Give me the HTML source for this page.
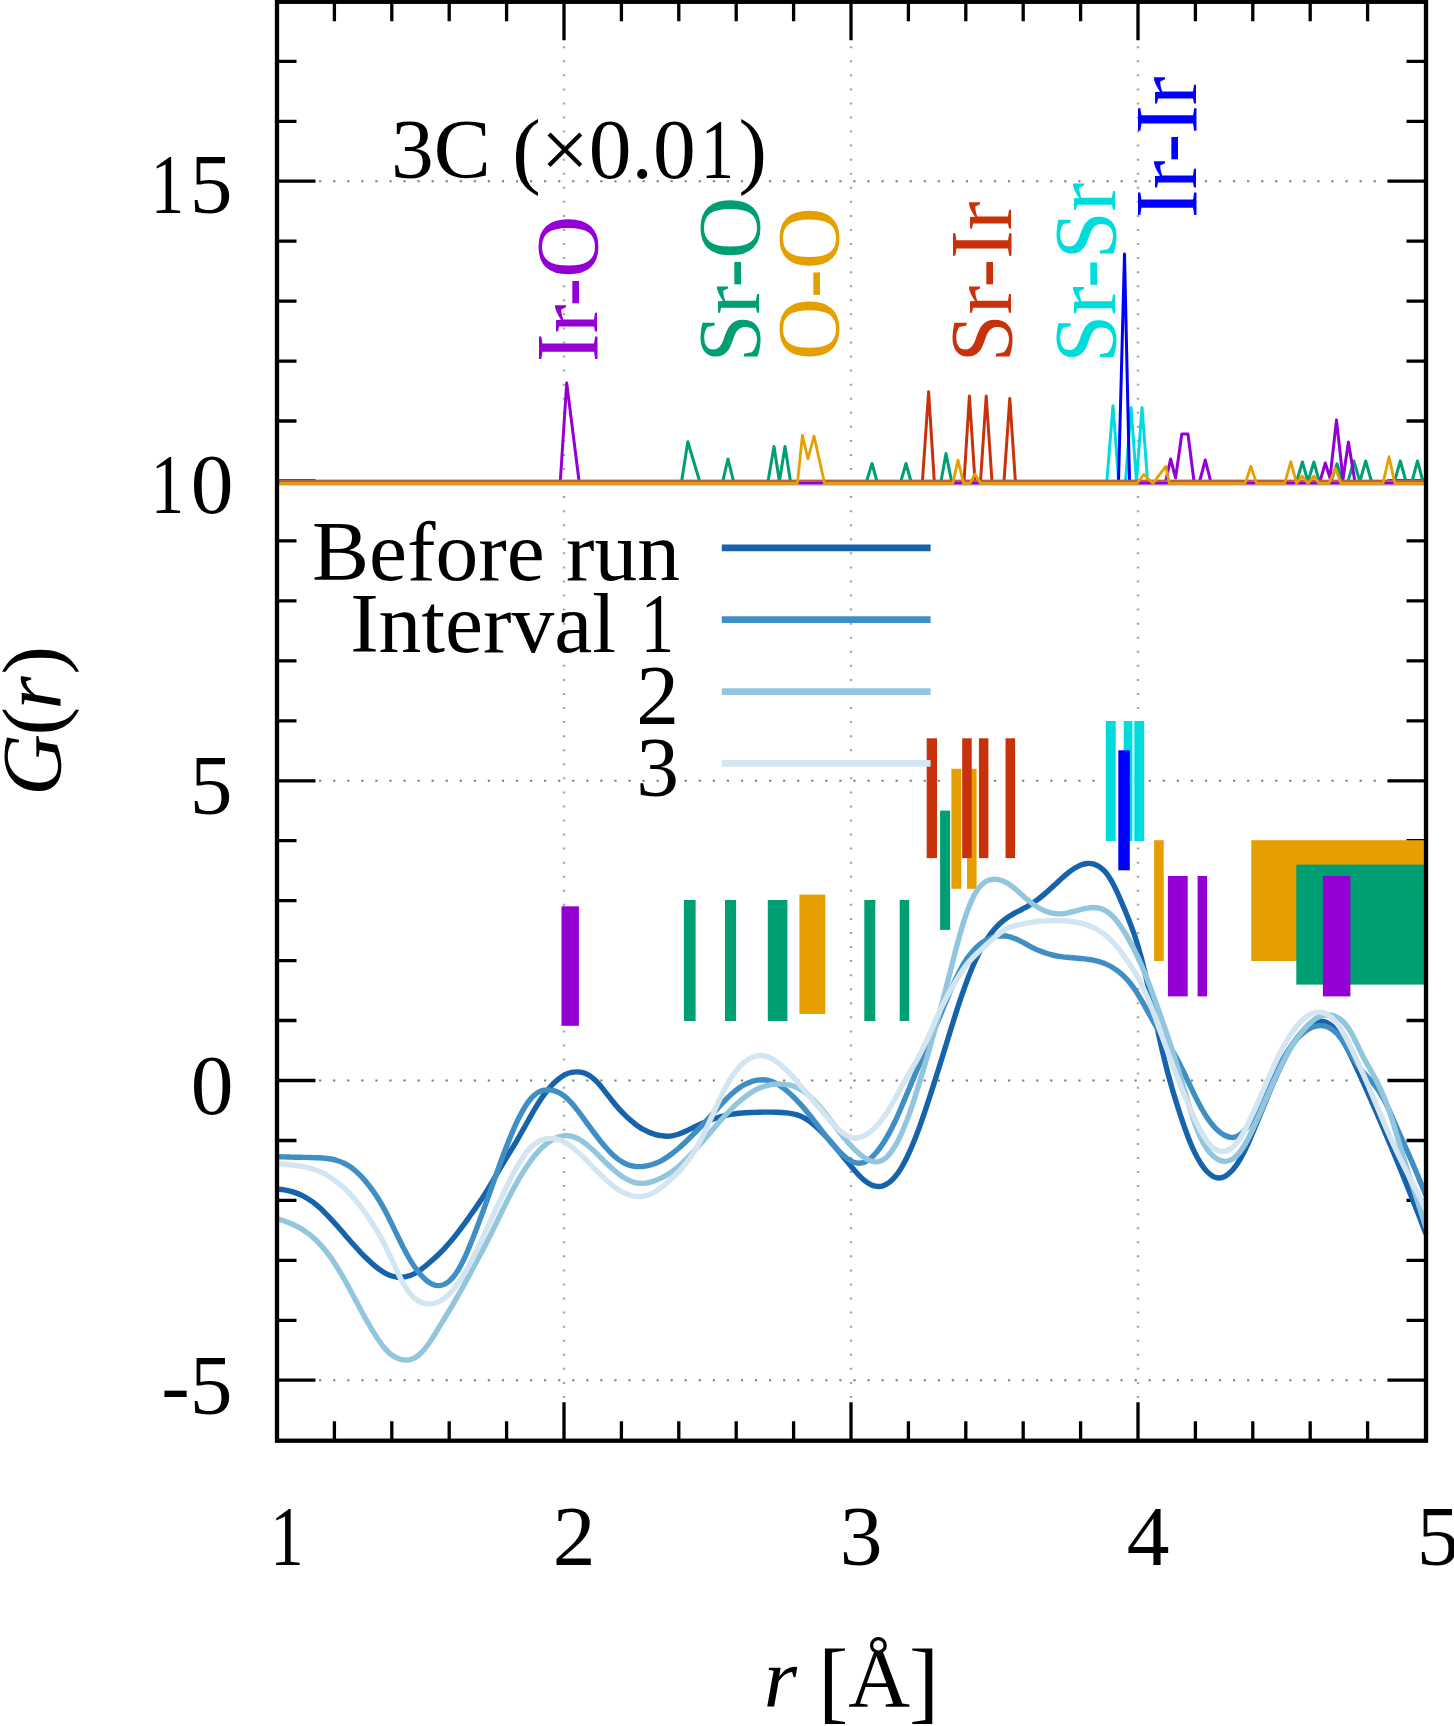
<!DOCTYPE html>
<html><head><meta charset="utf-8"><title>G(r)</title>
<style>
html,body{margin:0;padding:0;background:#fff;}
body{width:1454px;height:1726px;overflow:hidden;font-family:"Liberation Serif",serif;}
svg{display:block;filter:blur(0.55px);}
</style></head><body>
<svg width="1454" height="1726" viewBox="0 0 1454 1726">
<rect width="1454" height="1726" fill="#fff"/>
<g stroke="#7c7c7c" stroke-width="2" stroke-dasharray="2.2 11.86" fill="none">
<path d="M319.1 181.2H1388.0"/>
<path d="M319.1 481.0H1388.0"/>
<path d="M319.1 780.8H1388.0"/>
<path d="M319.1 1080.5H1388.0"/>
<path d="M319.1 1380.2H1388.0"/>
</g>
<g stroke="#a6a6a6" stroke-width="2.4" stroke-dasharray="2 12.06" fill="none">
<path d="M564.0 46.2V1400.7"/>
<path d="M851.0 46.2V1400.7"/>
<path d="M1138.0 46.2V1400.7"/>
</g>
<g stroke="#000" stroke-width="3.3" fill="none">
<path d="M277.0 1380.2h38.5 M1426.0 1380.2h-38.5"/>
<path d="M277.0 1320.3h19.5 M1426.0 1320.3h-19.5"/>
<path d="M277.0 1260.3h19.5 M1426.0 1260.3h-19.5"/>
<path d="M277.0 1200.4h19.5 M1426.0 1200.4h-19.5"/>
<path d="M277.0 1140.5h19.5 M1426.0 1140.5h-19.5"/>
<path d="M277.0 1080.5h38.5 M1426.0 1080.5h-38.5"/>
<path d="M277.0 1020.5h19.5 M1426.0 1020.5h-19.5"/>
<path d="M277.0 960.6h19.5 M1426.0 960.6h-19.5"/>
<path d="M277.0 900.6h19.5 M1426.0 900.6h-19.5"/>
<path d="M277.0 840.7h19.5 M1426.0 840.7h-19.5"/>
<path d="M277.0 780.8h38.5 M1426.0 780.8h-38.5"/>
<path d="M277.0 720.8h19.5 M1426.0 720.8h-19.5"/>
<path d="M277.0 660.8h19.5 M1426.0 660.8h-19.5"/>
<path d="M277.0 600.9h19.5 M1426.0 600.9h-19.5"/>
<path d="M277.0 540.9h19.5 M1426.0 540.9h-19.5"/>
<path d="M277.0 481.0h38.5 M1426.0 481.0h-38.5"/>
<path d="M277.0 421.0h19.5 M1426.0 421.0h-19.5"/>
<path d="M277.0 361.1h19.5 M1426.0 361.1h-19.5"/>
<path d="M277.0 301.1h19.5 M1426.0 301.1h-19.5"/>
<path d="M277.0 241.2h19.5 M1426.0 241.2h-19.5"/>
<path d="M277.0 181.2h38.5 M1426.0 181.2h-38.5"/>
<path d="M277.0 121.3h19.5 M1426.0 121.3h-19.5"/>
<path d="M277.0 61.3h19.5 M1426.0 61.3h-19.5"/>
<path d="M334.4 1440.7v-19.5 M334.4 1.8v19.5"/>
<path d="M391.8 1440.7v-19.5 M391.8 1.8v19.5"/>
<path d="M449.2 1440.7v-19.5 M449.2 1.8v19.5"/>
<path d="M506.6 1440.7v-19.5 M506.6 1.8v19.5"/>
<path d="M564.0 1440.7v-38.5 M564.0 1.8v38.5"/>
<path d="M621.4 1440.7v-19.5 M621.4 1.8v19.5"/>
<path d="M678.8 1440.7v-19.5 M678.8 1.8v19.5"/>
<path d="M736.2 1440.7v-19.5 M736.2 1.8v19.5"/>
<path d="M793.6 1440.7v-19.5 M793.6 1.8v19.5"/>
<path d="M851.0 1440.7v-38.5 M851.0 1.8v38.5"/>
<path d="M908.4 1440.7v-19.5 M908.4 1.8v19.5"/>
<path d="M965.8 1440.7v-19.5 M965.8 1.8v19.5"/>
<path d="M1023.2 1440.7v-19.5 M1023.2 1.8v19.5"/>
<path d="M1080.6 1440.7v-19.5 M1080.6 1.8v19.5"/>
<path d="M1138.0 1440.7v-38.5 M1138.0 1.8v38.5"/>
<path d="M1195.4 1440.7v-19.5 M1195.4 1.8v19.5"/>
<path d="M1252.8 1440.7v-19.5 M1252.8 1.8v19.5"/>
<path d="M1310.2 1440.7v-19.5 M1310.2 1.8v19.5"/>
<path d="M1367.6 1440.7v-19.5 M1367.6 1.8v19.5"/>
</g>
<rect x="561.5" y="906.3" width="17.4" height="119.5" fill="#9400d3"/>
<rect x="683.9" y="900.0" width="11.7" height="121.0" fill="#009e73"/>
<rect x="725.0" y="900.0" width="11.1" height="121.0" fill="#009e73"/>
<rect x="767.8" y="900.0" width="19.6" height="121.0" fill="#009e73"/>
<rect x="864.3" y="900.0" width="11.0" height="121.0" fill="#009e73"/>
<rect x="899.7" y="900.0" width="9.5" height="121.0" fill="#009e73"/>
<rect x="799.4" y="894.6" width="25.9" height="119.4" fill="#e69f00"/>
<rect x="940.1" y="810.6" width="10.0" height="119.3" fill="#009e73"/>
<rect x="951.4" y="768.8" width="9.9" height="120.0" fill="#e69f00"/>
<rect x="967.0" y="768.8" width="9.6" height="120.0" fill="#e69f00"/>
<rect x="926.7" y="738.3" width="10.3" height="119.8" fill="#c8320a"/>
<rect x="962.2" y="738.3" width="9.5" height="119.8" fill="#c8320a"/>
<rect x="978.9" y="738.3" width="9.5" height="119.8" fill="#c8320a"/>
<rect x="1005.5" y="738.3" width="9.6" height="119.8" fill="#c8320a"/>
<rect x="1105.8" y="721.0" width="9.9" height="120.0" fill="#00dcdc"/>
<rect x="1123.7" y="721.0" width="8.7" height="120.0" fill="#00dcdc"/>
<rect x="1134.3" y="721.0" width="9.9" height="120.0" fill="#00dcdc"/>
<rect x="1118.3" y="750.3" width="11.5" height="120.0" fill="#0000ff"/>
<rect x="1154.1" y="840.2" width="9.6" height="120.8" fill="#e69f00"/>
<rect x="1167.9" y="876.0" width="19.8" height="120.4" fill="#9400d3"/>
<rect x="1197.6" y="876.0" width="9.5" height="120.4" fill="#9400d3"/>
<rect x="1251.3" y="840.2" width="174.7" height="120.8" fill="#e69f00"/>
<rect x="1296.3" y="864.6" width="129.7" height="120.0" fill="#009e73"/>
<rect x="1322.9" y="876.0" width="27.5" height="120.4" fill="#9400d3"/>
<g fill="none" stroke-width="3" stroke-linejoin="round">
<polyline points="277.0,481.5 1106.8,481.5 1113.0,405.8 1118.7,481.5 1125.5,481.5 1131.0,407.5 1136.5,481.5 1142.0,407.5 1147.6,481.5 1426.0,481.5" stroke="#00dcdc"/>
<polyline points="277.0,481.5 1118.5,481.5 1124.5,254.0 1129.5,481.5 1426.0,481.5" stroke="#0000ff"/>
<polyline points="277.0,481.5 922.4,481.5 928.6,391.7 934.3,481.5 964.0,481.5 969.4,396.0 975.0,481.5 980.5,481.5 986.2,396.0 992.0,481.5 1004.0,481.5 1009.8,398.4 1015.4,481.5 1426.0,481.5" stroke="#c8320a"/>
<polyline points="277.0,481.5 681.6,481.5 687.8,441.7 699.7,481.5 722.7,481.5 728.0,459.0 733.6,481.5 768.0,481.5 774.0,446.6 779.4,481.5 785.0,446.6 790.5,481.5 866.5,481.5 872.0,463.5 877.0,481.5 900.8,481.5 906.0,463.5 911.0,481.5 941.0,481.5 946.0,453.6 951.6,481.5 1296.6,481.5 1302.4,462.0 1308.0,481.5 1313.9,462.0 1319.3,481.5 1331.0,481.5 1337.0,463.8 1342.5,481.5 1348.0,481.5 1353.8,461.0 1359.9,481.5 1365.7,461.0 1371.5,481.5 1394.5,481.5 1400.3,461.0 1406.0,481.5 1412.0,481.5 1417.5,461.0 1423.0,481.5 1426.0,481.5" stroke="#009e73"/>
<polyline points="277.0,481.5 560.3,481.5 566.7,383.0 579.1,481.5 1165.7,481.5 1170.6,459.0 1175.6,478.0 1181.8,434.0 1188.0,434.0 1194.0,481.5 1199.6,481.5 1205.3,460.0 1210.7,481.5 1320.0,481.5 1325.3,463.0 1330.0,478.0 1336.5,420.0 1343.0,479.0 1348.4,442.0 1354.9,481.5 1426.0,481.5" stroke="#9400d3"/>
</g>
<rect x="277.0" y="479.6" width="1149.0" height="2.6" fill="#b0604c"/>
<rect x="277.0" y="482.1" width="1149.0" height="2.5" fill="#9400d3"/>
<rect x="277.0" y="485.0" width="1149.0" height="1" fill="#d8cce8"/>
<polyline points="277.0,483.4 797.4,483.4 802.4,435.5 808.0,459.0 814.0,436.0 824.6,483.4 952.8,483.4 958.0,460.0 963.5,483.4 970.0,483.4 975.0,474.0 980.5,483.4 1137.0,483.4 1144.0,474.4 1153.0,483.4 1165.7,466.4 1169.4,483.4 1245.2,483.4 1250.8,466.4 1256.6,483.4 1284.7,483.4 1290.8,461.6 1296.6,483.4 1302.0,476.0 1308.0,483.4 1313.9,476.0 1319.0,483.4 1329.0,483.4 1335.5,468.5 1340.9,483.4 1383.0,483.4 1389.0,456.7 1394.9,483.4 1426.0,483.4" stroke="#e69f00" fill="none" stroke-width="2.8" stroke-linejoin="round"/>
<g fill="none" stroke-width="5.4" stroke-linecap="butt" stroke-linejoin="round">
<path d="M277.0 1189.1C278.0 1189.2 281.0 1189.4 283.0 1189.7C285.0 1190.0 287.0 1190.4 289.0 1190.8C291.0 1191.3 293.0 1191.9 295.0 1192.6C297.0 1193.3 299.0 1194.0 301.0 1195.0C303.0 1195.9 305.0 1196.9 307.0 1198.2C309.0 1199.4 311.0 1200.7 313.0 1202.2C315.0 1203.7 317.0 1205.4 319.0 1207.1C321.0 1208.9 323.0 1210.8 325.0 1212.8C327.0 1214.8 329.0 1216.9 331.0 1219.1C333.0 1221.2 335.0 1223.5 337.0 1225.8C339.0 1228.0 341.0 1230.3 343.0 1232.6C345.0 1234.9 347.0 1237.3 349.0 1239.5C351.0 1241.8 353.0 1244.1 355.0 1246.3C357.0 1248.5 359.0 1250.7 361.0 1252.8C363.0 1254.9 365.0 1256.9 367.0 1258.8C369.0 1260.7 371.0 1262.6 373.0 1264.4C375.0 1266.1 377.0 1267.8 379.0 1269.2C381.0 1270.7 383.0 1272.0 385.0 1273.1C387.0 1274.2 389.0 1275.1 391.0 1275.8C393.0 1276.5 395.0 1276.9 397.0 1277.2C399.0 1277.4 401.0 1277.4 403.0 1277.1C405.0 1276.9 407.0 1276.5 409.0 1275.8C411.0 1275.2 413.0 1274.3 415.0 1273.3C417.0 1272.2 419.0 1270.9 421.0 1269.5C423.0 1268.1 425.0 1266.4 427.0 1264.8C429.0 1263.1 431.0 1261.4 433.0 1259.6C435.0 1257.8 437.0 1256.0 439.0 1254.0C441.0 1252.1 443.0 1250.0 445.0 1247.9C447.0 1245.7 449.0 1243.4 451.0 1241.1C453.0 1238.7 455.0 1236.2 457.0 1233.6C459.0 1231.0 461.0 1228.3 463.0 1225.6C465.0 1222.9 467.0 1220.1 469.0 1217.3C471.0 1214.5 473.0 1211.7 475.0 1208.9C477.0 1206.0 479.0 1203.1 481.0 1200.0C483.0 1197.0 485.0 1193.8 487.0 1190.6C489.0 1187.3 491.0 1183.9 493.0 1180.5C495.0 1177.1 497.0 1173.5 499.0 1170.1C501.0 1166.7 503.0 1163.3 505.0 1160.0C507.0 1156.7 509.0 1153.5 511.0 1150.3C513.0 1147.0 515.0 1143.7 517.0 1140.3C519.0 1136.9 521.0 1133.4 523.0 1129.8C525.0 1126.3 527.0 1122.6 529.0 1119.1C531.0 1115.6 533.0 1111.9 535.0 1108.6C537.0 1105.2 539.0 1102.0 541.0 1099.0C543.0 1096.0 545.0 1093.3 547.0 1090.8C549.0 1088.3 551.0 1086.1 553.0 1084.0C555.0 1082.0 557.0 1080.2 559.0 1078.6C561.0 1077.1 563.0 1075.7 565.0 1074.7C567.0 1073.7 569.0 1073.0 571.0 1072.5C573.0 1072.1 575.0 1071.9 577.0 1071.9C579.0 1071.9 581.0 1072.1 583.0 1072.7C585.0 1073.2 587.0 1074.0 589.0 1075.2C591.0 1076.4 593.0 1078.1 595.0 1079.9C597.0 1081.8 599.0 1084.2 601.0 1086.5C603.0 1088.9 605.0 1091.5 607.0 1094.1C609.0 1096.6 611.0 1099.3 613.0 1101.8C615.0 1104.3 617.0 1106.7 619.0 1108.9C621.0 1111.1 623.0 1113.1 625.0 1115.1C627.0 1117.1 629.0 1118.9 631.0 1120.6C633.0 1122.4 635.0 1124.0 637.0 1125.5C639.0 1126.9 641.0 1128.2 643.0 1129.3C645.0 1130.5 647.0 1131.4 649.0 1132.2C651.0 1133.1 653.0 1133.8 655.0 1134.3C657.0 1134.9 659.0 1135.4 661.0 1135.7C663.0 1136.0 665.0 1136.2 667.0 1136.2C669.0 1136.2 671.0 1136.0 673.0 1135.6C675.0 1135.3 677.0 1134.7 679.0 1134.0C681.0 1133.3 683.0 1132.4 685.0 1131.5C687.0 1130.6 689.0 1129.6 691.0 1128.6C693.0 1127.6 695.0 1126.6 697.0 1125.7C699.0 1124.8 701.0 1123.9 703.0 1123.0C705.0 1122.2 707.0 1121.4 709.0 1120.7C711.0 1119.9 713.0 1119.2 715.0 1118.5C717.0 1117.9 719.0 1117.3 721.0 1116.7C723.0 1116.1 725.0 1115.6 727.0 1115.2C729.0 1114.7 731.0 1114.4 733.0 1114.1C735.0 1113.7 737.0 1113.5 739.0 1113.3C741.0 1113.1 743.0 1112.9 745.0 1112.8C747.0 1112.7 749.0 1112.6 751.0 1112.5C753.0 1112.4 755.0 1112.3 757.0 1112.3C759.0 1112.2 761.0 1112.2 763.0 1112.1C765.0 1112.1 767.0 1112.1 769.0 1112.1C771.0 1112.1 773.0 1112.2 775.0 1112.2C777.0 1112.3 779.0 1112.4 781.0 1112.5C783.0 1112.6 785.0 1112.7 787.0 1112.9C789.0 1113.2 791.0 1113.4 793.0 1113.9C795.0 1114.3 797.0 1114.8 799.0 1115.6C801.0 1116.4 803.0 1117.3 805.0 1118.4C807.0 1119.5 809.0 1120.9 811.0 1122.4C813.0 1123.9 815.0 1125.7 817.0 1127.5C819.0 1129.3 821.0 1131.3 823.0 1133.4C825.0 1135.4 827.0 1137.6 829.0 1139.8C831.0 1142.0 833.0 1144.3 835.0 1146.7C837.0 1149.0 839.0 1151.5 841.0 1153.9C843.0 1156.4 845.0 1158.9 847.0 1161.3C849.0 1163.8 851.0 1166.3 853.0 1168.6C855.0 1170.9 857.0 1173.3 859.0 1175.3C861.0 1177.3 863.0 1179.3 865.0 1180.8C867.0 1182.4 869.0 1183.7 871.0 1184.7C873.0 1185.6 875.0 1186.2 877.0 1186.4C879.0 1186.6 881.0 1186.5 883.0 1185.8C885.0 1185.2 887.0 1184.2 889.0 1182.7C891.0 1181.2 893.0 1179.2 895.0 1176.8C897.0 1174.4 899.0 1171.6 901.0 1168.3C903.0 1165.0 905.0 1161.3 907.0 1157.2C909.0 1153.1 911.0 1148.6 913.0 1143.8C915.0 1139.0 917.0 1133.8 919.0 1128.4C921.0 1122.9 923.0 1117.1 925.0 1111.2C927.0 1105.3 929.0 1099.1 931.0 1092.9C933.0 1086.7 935.0 1080.3 937.0 1074.0C939.0 1067.6 941.0 1061.2 943.0 1054.7C945.0 1048.2 947.0 1041.6 949.0 1035.2C951.0 1028.7 953.0 1022.2 955.0 1016.0C957.0 1009.7 959.0 1003.5 961.0 997.7C963.0 991.8 965.0 986.1 967.0 980.8C969.0 975.4 971.0 970.4 973.0 965.7C975.0 961.1 977.0 956.9 979.0 953.0C981.0 949.1 983.0 945.6 985.0 942.4C987.0 939.1 989.0 936.1 991.0 933.5C993.0 930.8 995.0 928.5 997.0 926.4C999.0 924.3 1001.0 922.5 1003.0 920.9C1005.0 919.2 1007.0 917.8 1009.0 916.5C1011.0 915.2 1013.0 914.1 1015.0 912.9C1017.0 911.8 1019.0 910.9 1021.0 909.8C1023.0 908.7 1025.0 907.7 1027.0 906.6C1029.0 905.4 1031.0 904.2 1033.0 902.9C1035.0 901.5 1037.0 900.1 1039.0 898.5C1041.0 897.0 1043.0 895.3 1045.0 893.6C1047.0 891.9 1049.0 890.1 1051.0 888.2C1053.0 886.4 1055.0 884.5 1057.0 882.7C1059.0 880.8 1061.0 878.9 1063.0 877.2C1065.0 875.4 1067.0 873.7 1069.0 872.1C1071.0 870.6 1073.0 869.2 1075.0 868.0C1077.0 866.8 1079.0 865.8 1081.0 865.0C1083.0 864.3 1085.0 863.7 1087.0 863.5C1089.0 863.3 1091.0 863.4 1093.0 863.8C1095.0 864.3 1097.0 865.1 1099.0 866.4C1101.0 867.7 1103.0 869.3 1105.0 871.6C1107.0 873.9 1109.0 876.7 1111.0 880.1C1113.0 883.5 1115.0 887.6 1117.0 891.8C1119.0 896.1 1121.0 900.9 1123.0 905.6C1125.0 910.4 1127.0 915.1 1129.0 920.3C1131.0 925.5 1133.0 930.6 1135.0 936.6C1137.0 942.7 1139.0 949.3 1141.0 956.8C1143.0 964.2 1145.0 972.6 1147.0 981.3C1149.0 989.9 1151.0 999.4 1153.0 1008.6C1155.0 1017.7 1157.0 1027.4 1159.0 1036.3C1161.0 1045.2 1163.0 1054.0 1165.0 1062.0C1167.0 1070.0 1169.0 1077.4 1171.0 1084.5C1173.0 1091.6 1175.0 1098.1 1177.0 1104.5C1179.0 1110.9 1181.0 1117.0 1183.0 1122.9C1185.0 1128.7 1187.0 1134.3 1189.0 1139.4C1191.0 1144.4 1193.0 1149.0 1195.0 1153.1C1197.0 1157.1 1199.0 1160.7 1201.0 1163.7C1203.0 1166.8 1205.0 1169.4 1207.0 1171.5C1209.0 1173.6 1211.0 1175.3 1213.0 1176.4C1215.0 1177.4 1217.0 1178.0 1219.0 1178.0C1221.0 1178.0 1223.0 1177.4 1225.0 1176.3C1227.0 1175.3 1229.0 1173.7 1231.0 1171.7C1233.0 1169.7 1235.0 1167.1 1237.0 1164.2C1239.0 1161.2 1241.0 1157.7 1243.0 1153.9C1245.0 1150.1 1247.0 1145.8 1249.0 1141.3C1251.0 1136.9 1253.0 1132.1 1255.0 1127.3C1257.0 1122.5 1259.0 1117.5 1261.0 1112.6C1263.0 1107.7 1265.0 1102.7 1267.0 1097.9C1269.0 1093.0 1271.0 1088.2 1273.0 1083.6C1275.0 1079.0 1277.0 1074.5 1279.0 1070.3C1281.0 1066.0 1283.0 1061.8 1285.0 1057.9C1287.0 1054.1 1289.0 1050.4 1291.0 1047.0C1293.0 1043.7 1295.0 1040.6 1297.0 1037.9C1299.0 1035.2 1301.0 1032.9 1303.0 1030.9C1305.0 1028.9 1307.0 1027.2 1309.0 1025.8C1311.0 1024.4 1313.0 1023.2 1315.0 1022.5C1317.0 1021.7 1319.0 1021.2 1321.0 1021.3C1323.0 1021.3 1325.0 1021.7 1327.0 1022.7C1329.0 1023.6 1331.0 1025.1 1333.0 1027.0C1335.0 1029.0 1337.0 1031.5 1339.0 1034.4C1341.0 1037.3 1343.0 1040.8 1345.0 1044.4C1347.0 1048.0 1349.0 1052.0 1351.0 1056.0C1353.0 1060.1 1355.0 1064.4 1357.0 1068.7C1359.0 1073.0 1361.0 1077.4 1363.0 1081.9C1365.0 1086.3 1367.0 1090.8 1369.0 1095.4C1371.0 1099.9 1373.0 1104.4 1375.0 1109.0C1377.0 1113.5 1379.0 1118.1 1381.0 1122.8C1383.0 1127.4 1385.0 1132.1 1387.0 1136.9C1389.0 1141.6 1391.0 1146.4 1393.0 1151.2C1395.0 1156.1 1397.0 1160.9 1399.0 1165.8C1401.0 1170.7 1403.0 1175.6 1405.0 1180.6C1407.0 1185.5 1409.0 1190.5 1411.0 1195.5C1413.0 1200.6 1415.0 1205.6 1417.0 1210.7C1419.0 1215.8 1421.5 1222.3 1423.0 1226.2C1424.5 1230.1 1425.5 1232.7 1426.0 1234.0" stroke="#1763ab"/>
<path d="M277.0 1156.7C278.0 1156.8 281.0 1156.8 283.0 1156.9C285.0 1157.0 287.0 1157.0 289.0 1157.0C291.0 1157.1 293.0 1157.1 295.0 1157.2C297.0 1157.2 299.0 1157.3 301.0 1157.3C303.0 1157.3 305.0 1157.4 307.0 1157.4C309.0 1157.5 311.0 1157.5 313.0 1157.6C315.0 1157.7 317.0 1157.7 319.0 1157.8C321.0 1157.9 323.0 1158.0 325.0 1158.2C327.0 1158.4 329.0 1158.6 331.0 1159.0C333.0 1159.4 335.0 1159.8 337.0 1160.5C339.0 1161.1 341.0 1161.8 343.0 1162.8C345.0 1163.7 347.0 1164.8 349.0 1166.1C351.0 1167.4 353.0 1168.8 355.0 1170.5C357.0 1172.2 359.0 1174.1 361.0 1176.1C363.0 1178.2 365.0 1180.5 367.0 1183.0C369.0 1185.4 371.0 1188.1 373.0 1190.9C375.0 1193.7 377.0 1196.7 379.0 1200.0C381.0 1203.3 383.0 1206.8 385.0 1210.6C387.0 1214.3 389.0 1218.4 391.0 1222.4C393.0 1226.4 395.0 1230.7 397.0 1234.7C399.0 1238.8 401.0 1243.0 403.0 1246.9C405.0 1250.7 407.0 1254.6 409.0 1258.0C411.0 1261.5 413.0 1264.7 415.0 1267.5C417.0 1270.3 419.0 1272.9 421.0 1275.1C423.0 1277.3 425.0 1279.3 427.0 1280.8C429.0 1282.4 431.0 1283.7 433.0 1284.5C435.0 1285.3 437.0 1285.7 439.0 1285.6C441.0 1285.5 443.0 1285.1 445.0 1284.0C447.0 1283.0 449.0 1281.6 451.0 1279.5C453.0 1277.5 455.0 1275.0 457.0 1271.9C459.0 1268.8 461.0 1265.2 463.0 1261.1C465.0 1257.1 467.0 1252.6 469.0 1247.8C471.0 1243.1 473.0 1237.9 475.0 1232.8C477.0 1227.6 479.0 1222.2 481.0 1216.8C483.0 1211.4 485.0 1205.9 487.0 1200.4C489.0 1194.8 491.0 1189.1 493.0 1183.5C495.0 1177.8 497.0 1172.1 499.0 1166.6C501.0 1161.1 503.0 1155.7 505.0 1150.5C507.0 1145.3 509.0 1140.2 511.0 1135.4C513.0 1130.6 515.0 1126.0 517.0 1121.7C519.0 1117.5 521.0 1113.6 523.0 1110.1C525.0 1106.7 527.0 1103.6 529.0 1101.0C531.0 1098.4 533.0 1096.2 535.0 1094.5C537.0 1092.9 539.0 1091.8 541.0 1091.0C543.0 1090.2 545.0 1089.9 547.0 1089.9C549.0 1089.8 551.0 1090.0 553.0 1090.5C555.0 1090.9 557.0 1091.6 559.0 1092.6C561.0 1093.7 563.0 1095.0 565.0 1096.6C567.0 1098.2 569.0 1100.2 571.0 1102.4C573.0 1104.6 575.0 1107.1 577.0 1109.7C579.0 1112.2 581.0 1115.0 583.0 1117.7C585.0 1120.4 587.0 1123.2 589.0 1125.9C591.0 1128.6 593.0 1131.4 595.0 1134.0C597.0 1136.6 599.0 1139.2 601.0 1141.7C603.0 1144.2 605.0 1146.6 607.0 1148.8C609.0 1151.0 611.0 1153.1 613.0 1155.0C615.0 1156.8 617.0 1158.5 619.0 1159.9C621.0 1161.3 623.0 1162.5 625.0 1163.5C627.0 1164.5 629.0 1165.2 631.0 1165.7C633.0 1166.2 635.0 1166.5 637.0 1166.6C639.0 1166.7 641.0 1166.7 643.0 1166.5C645.0 1166.2 647.0 1165.9 649.0 1165.4C651.0 1164.9 653.0 1164.3 655.0 1163.5C657.0 1162.7 659.0 1161.8 661.0 1160.8C663.0 1159.7 665.0 1158.6 667.0 1157.2C669.0 1155.9 671.0 1154.5 673.0 1152.9C675.0 1151.4 677.0 1149.7 679.0 1148.0C681.0 1146.2 683.0 1144.4 685.0 1142.5C687.0 1140.6 689.0 1138.7 691.0 1136.7C693.0 1134.7 695.0 1132.6 697.0 1130.6C699.0 1128.5 701.0 1126.4 703.0 1124.3C705.0 1122.1 707.0 1119.9 709.0 1117.7C711.0 1115.5 713.0 1113.3 715.0 1111.1C717.0 1108.9 719.0 1106.7 721.0 1104.6C723.0 1102.5 725.0 1100.4 727.0 1098.4C729.0 1096.4 731.0 1094.5 733.0 1092.8C735.0 1091.0 737.0 1089.4 739.0 1088.0C741.0 1086.6 743.0 1085.4 745.0 1084.4C747.0 1083.3 749.0 1082.4 751.0 1081.8C753.0 1081.1 755.0 1080.6 757.0 1080.2C759.0 1079.9 761.0 1079.8 763.0 1079.8C765.0 1079.9 767.0 1080.2 769.0 1080.7C771.0 1081.2 773.0 1081.9 775.0 1082.9C777.0 1083.8 779.0 1085.0 781.0 1086.4C783.0 1087.7 785.0 1089.3 787.0 1091.0C789.0 1092.7 791.0 1094.5 793.0 1096.5C795.0 1098.4 797.0 1100.5 799.0 1102.7C801.0 1104.8 803.0 1107.1 805.0 1109.5C807.0 1111.8 809.0 1114.3 811.0 1116.8C813.0 1119.4 815.0 1122.0 817.0 1124.6C819.0 1127.2 821.0 1129.9 823.0 1132.4C825.0 1135.0 827.0 1137.5 829.0 1140.0C831.0 1142.4 833.0 1144.8 835.0 1147.0C837.0 1149.2 839.0 1151.3 841.0 1153.2C843.0 1155.1 845.0 1156.9 847.0 1158.4C849.0 1159.8 851.0 1161.2 853.0 1162.0C855.0 1162.8 857.0 1163.3 859.0 1163.3C861.0 1163.3 863.0 1162.8 865.0 1162.0C867.0 1161.1 869.0 1159.7 871.0 1158.1C873.0 1156.4 875.0 1154.2 877.0 1151.8C879.0 1149.4 881.0 1146.6 883.0 1143.5C885.0 1140.4 887.0 1137.1 889.0 1133.4C891.0 1129.8 893.0 1125.8 895.0 1121.5C897.0 1117.3 899.0 1112.7 901.0 1108.0C903.0 1103.4 905.0 1098.5 907.0 1093.7C909.0 1088.9 911.0 1084.1 913.0 1079.4C915.0 1074.6 917.0 1069.9 919.0 1065.2C921.0 1060.5 923.0 1055.9 925.0 1051.3C927.0 1046.7 929.0 1042.2 931.0 1037.5C933.0 1032.8 935.0 1028.1 937.0 1023.2C939.0 1018.4 941.0 1013.4 943.0 1008.6C945.0 1003.7 947.0 998.8 949.0 994.1C951.0 989.5 953.0 984.8 955.0 980.6C957.0 976.3 959.0 972.2 961.0 968.5C963.0 964.8 965.0 961.5 967.0 958.6C969.0 955.7 971.0 953.2 973.0 950.9C975.0 948.7 977.0 946.8 979.0 945.1C981.0 943.4 983.0 942.0 985.0 940.8C987.0 939.6 989.0 938.7 991.0 937.9C993.0 937.1 995.0 936.6 997.0 936.2C999.0 935.9 1001.0 935.8 1003.0 935.8C1005.0 935.9 1007.0 936.2 1009.0 936.7C1011.0 937.1 1013.0 937.9 1015.0 938.6C1017.0 939.4 1019.0 940.4 1021.0 941.4C1023.0 942.4 1025.0 943.5 1027.0 944.6C1029.0 945.7 1031.0 946.8 1033.0 947.8C1035.0 948.8 1037.0 949.7 1039.0 950.6C1041.0 951.4 1043.0 952.2 1045.0 952.8C1047.0 953.5 1049.0 954.1 1051.0 954.6C1053.0 955.2 1055.0 955.6 1057.0 956.0C1059.0 956.3 1061.0 956.6 1063.0 956.9C1065.0 957.1 1067.0 957.3 1069.0 957.5C1071.0 957.7 1073.0 957.9 1075.0 958.0C1077.0 958.2 1079.0 958.3 1081.0 958.5C1083.0 958.7 1085.0 958.9 1087.0 959.2C1089.0 959.4 1091.0 959.8 1093.0 960.2C1095.0 960.6 1097.0 961.1 1099.0 961.6C1101.0 962.2 1103.0 962.8 1105.0 963.6C1107.0 964.5 1109.0 965.4 1111.0 966.5C1113.0 967.6 1115.0 968.9 1117.0 970.4C1119.0 971.9 1121.0 973.5 1123.0 975.4C1125.0 977.3 1127.0 979.3 1129.0 981.7C1131.0 984.1 1133.0 986.8 1135.0 989.7C1137.0 992.7 1139.0 996.0 1141.0 999.4C1143.0 1002.8 1145.0 1006.5 1147.0 1010.1C1149.0 1013.6 1151.0 1017.4 1153.0 1020.9C1155.0 1024.3 1157.0 1027.7 1159.0 1030.9C1161.0 1034.0 1163.0 1036.8 1165.0 1039.8C1167.0 1042.8 1169.0 1045.6 1171.0 1048.8C1173.0 1052.0 1175.0 1055.3 1177.0 1059.0C1179.0 1062.6 1181.0 1066.6 1183.0 1070.7C1185.0 1074.7 1187.0 1079.1 1189.0 1083.3C1191.0 1087.5 1193.0 1091.9 1195.0 1095.9C1197.0 1099.9 1199.0 1103.9 1201.0 1107.5C1203.0 1111.0 1205.0 1114.4 1207.0 1117.4C1209.0 1120.4 1211.0 1123.1 1213.0 1125.4C1215.0 1127.8 1217.0 1129.8 1219.0 1131.5C1221.0 1133.2 1223.0 1134.5 1225.0 1135.5C1227.0 1136.5 1229.0 1137.2 1231.0 1137.4C1233.0 1137.6 1235.0 1137.3 1237.0 1136.5C1239.0 1135.6 1241.0 1134.2 1243.0 1132.1C1245.0 1130.1 1247.0 1127.4 1249.0 1124.4C1251.0 1121.3 1253.0 1117.6 1255.0 1113.8C1257.0 1110.0 1259.0 1105.7 1261.0 1101.6C1263.0 1097.5 1265.0 1093.3 1267.0 1089.2C1269.0 1085.1 1271.0 1081.1 1273.0 1077.3C1275.0 1073.4 1277.0 1069.6 1279.0 1066.0C1281.0 1062.4 1283.0 1058.9 1285.0 1055.7C1287.0 1052.4 1289.0 1049.3 1291.0 1046.5C1293.0 1043.7 1295.0 1041.2 1297.0 1039.0C1299.0 1036.7 1301.0 1034.7 1303.0 1033.1C1305.0 1031.4 1307.0 1030.0 1309.0 1028.9C1311.0 1027.8 1313.0 1026.9 1315.0 1026.4C1317.0 1025.8 1319.0 1025.5 1321.0 1025.6C1323.0 1025.6 1325.0 1026.0 1327.0 1026.7C1329.0 1027.5 1331.0 1028.6 1333.0 1030.2C1335.0 1031.7 1337.0 1033.6 1339.0 1035.9C1341.0 1038.3 1343.0 1041.2 1345.0 1044.3C1347.0 1047.3 1349.0 1051.1 1351.0 1054.4C1353.0 1057.8 1355.0 1061.4 1357.0 1064.3C1359.0 1067.3 1361.0 1069.7 1363.0 1072.1C1365.0 1074.5 1367.0 1076.4 1369.0 1078.6C1371.0 1080.9 1373.0 1083.0 1375.0 1085.6C1377.0 1088.2 1379.0 1091.0 1381.0 1094.3C1383.0 1097.6 1385.0 1101.5 1387.0 1105.6C1389.0 1109.7 1391.0 1114.5 1393.0 1119.0C1395.0 1123.5 1397.0 1128.2 1399.0 1132.7C1401.0 1137.2 1403.0 1141.5 1405.0 1146.0C1407.0 1150.5 1409.0 1155.0 1411.0 1159.6C1413.0 1164.3 1415.0 1169.0 1417.0 1173.8C1419.0 1178.6 1421.5 1184.7 1423.0 1188.3C1424.5 1192.0 1425.5 1194.5 1426.0 1195.7" stroke="#3f8fc4"/>
<path d="M277.0 1218.8C278.0 1219.1 281.0 1219.9 283.0 1220.5C285.0 1221.2 287.0 1221.9 289.0 1222.7C291.0 1223.5 293.0 1224.4 295.0 1225.4C297.0 1226.4 299.0 1227.4 301.0 1228.6C303.0 1229.8 305.0 1231.1 307.0 1232.6C309.0 1234.0 311.0 1235.6 313.0 1237.4C315.0 1239.1 317.0 1241.1 319.0 1243.2C321.0 1245.3 323.0 1247.6 325.0 1250.0C327.0 1252.5 329.0 1255.1 331.0 1257.9C333.0 1260.8 335.0 1263.8 337.0 1267.0C339.0 1270.1 341.0 1273.5 343.0 1277.0C345.0 1280.5 347.0 1284.1 349.0 1287.8C351.0 1291.5 353.0 1295.3 355.0 1299.0C357.0 1302.7 359.0 1306.5 361.0 1310.2C363.0 1313.9 365.0 1317.6 367.0 1321.1C369.0 1324.7 371.0 1328.1 373.0 1331.4C375.0 1334.7 377.0 1337.9 379.0 1340.8C381.0 1343.7 383.0 1346.4 385.0 1348.6C387.0 1350.9 389.0 1352.8 391.0 1354.4C393.0 1355.9 395.0 1357.1 397.0 1358.0C399.0 1358.9 401.0 1359.5 403.0 1359.8C405.0 1360.1 407.0 1360.2 409.0 1359.8C411.0 1359.5 413.0 1358.8 415.0 1357.7C417.0 1356.5 419.0 1355.0 421.0 1353.0C423.0 1351.1 425.0 1348.7 427.0 1346.0C429.0 1343.3 431.0 1340.2 433.0 1337.1C435.0 1334.0 437.0 1330.6 439.0 1327.4C441.0 1324.1 443.0 1320.8 445.0 1317.5C447.0 1314.2 449.0 1311.0 451.0 1307.6C453.0 1304.3 455.0 1300.9 457.0 1297.4C459.0 1293.9 461.0 1290.3 463.0 1286.7C465.0 1283.0 467.0 1279.3 469.0 1275.6C471.0 1271.9 473.0 1268.2 475.0 1264.4C477.0 1260.7 479.0 1257.1 481.0 1253.3C483.0 1249.5 485.0 1245.8 487.0 1241.8C489.0 1237.9 491.0 1233.9 493.0 1229.9C495.0 1225.8 497.0 1221.6 499.0 1217.5C501.0 1213.4 503.0 1209.1 505.0 1205.1C507.0 1201.0 509.0 1197.0 511.0 1193.2C513.0 1189.4 515.0 1185.7 517.0 1182.3C519.0 1178.8 521.0 1175.4 523.0 1172.3C525.0 1169.1 527.0 1166.0 529.0 1163.2C531.0 1160.3 533.0 1157.7 535.0 1155.3C537.0 1152.9 539.0 1150.7 541.0 1148.7C543.0 1146.7 545.0 1145.0 547.0 1143.4C549.0 1141.9 551.0 1140.6 553.0 1139.5C555.0 1138.4 557.0 1137.5 559.0 1136.8C561.0 1136.2 563.0 1135.7 565.0 1135.6C567.0 1135.5 569.0 1135.7 571.0 1136.1C573.0 1136.5 575.0 1137.3 577.0 1138.2C579.0 1139.2 581.0 1140.4 583.0 1141.8C585.0 1143.2 587.0 1144.8 589.0 1146.5C591.0 1148.1 593.0 1150.0 595.0 1151.9C597.0 1153.8 599.0 1155.8 601.0 1157.8C603.0 1159.8 605.0 1161.8 607.0 1163.7C609.0 1165.6 611.0 1167.5 613.0 1169.3C615.0 1171.0 617.0 1172.7 619.0 1174.2C621.0 1175.7 623.0 1177.1 625.0 1178.3C627.0 1179.5 629.0 1180.4 631.0 1181.2C633.0 1182.0 635.0 1182.6 637.0 1183.0C639.0 1183.3 641.0 1183.5 643.0 1183.4C645.0 1183.3 647.0 1183.0 649.0 1182.5C651.0 1182.1 653.0 1181.4 655.0 1180.7C657.0 1180.0 659.0 1179.2 661.0 1178.2C663.0 1177.2 665.0 1176.1 667.0 1174.9C669.0 1173.7 671.0 1172.3 673.0 1170.9C675.0 1169.4 677.0 1167.8 679.0 1166.1C681.0 1164.4 683.0 1162.5 685.0 1160.5C687.0 1158.6 689.0 1156.4 691.0 1154.3C693.0 1152.1 695.0 1149.9 697.0 1147.7C699.0 1145.4 701.0 1143.2 703.0 1140.9C705.0 1138.6 707.0 1136.2 709.0 1133.9C711.0 1131.6 713.0 1129.2 715.0 1126.9C717.0 1124.6 719.0 1122.3 721.0 1120.0C723.0 1117.8 725.0 1115.6 727.0 1113.5C729.0 1111.4 731.0 1109.3 733.0 1107.4C735.0 1105.4 737.0 1103.6 739.0 1101.8C741.0 1100.1 743.0 1098.4 745.0 1096.9C747.0 1095.4 749.0 1093.9 751.0 1092.6C753.0 1091.4 755.0 1090.2 757.0 1089.2C759.0 1088.2 761.0 1087.4 763.0 1086.7C765.0 1086.0 767.0 1085.5 769.0 1085.1C771.0 1084.7 773.0 1084.4 775.0 1084.3C777.0 1084.1 779.0 1084.0 781.0 1084.1C783.0 1084.1 785.0 1084.3 787.0 1084.6C789.0 1084.9 791.0 1085.4 793.0 1086.0C795.0 1086.7 797.0 1087.5 799.0 1088.6C801.0 1089.7 803.0 1090.9 805.0 1092.4C807.0 1093.9 809.0 1095.6 811.0 1097.5C813.0 1099.3 815.0 1101.4 817.0 1103.6C819.0 1105.8 821.0 1108.2 823.0 1110.7C825.0 1113.1 827.0 1115.8 829.0 1118.3C831.0 1120.9 833.0 1123.6 835.0 1126.2C837.0 1128.8 839.0 1131.5 841.0 1134.0C843.0 1136.5 845.0 1138.9 847.0 1141.2C849.0 1143.5 851.0 1145.8 853.0 1147.8C855.0 1149.9 857.0 1151.8 859.0 1153.5C861.0 1155.2 863.0 1156.8 865.0 1158.1C867.0 1159.3 869.0 1160.4 871.0 1161.0C873.0 1161.7 875.0 1162.0 877.0 1161.9C879.0 1161.7 881.0 1161.1 883.0 1159.9C885.0 1158.8 887.0 1157.0 889.0 1154.7C891.0 1152.4 893.0 1149.5 895.0 1146.2C897.0 1142.8 899.0 1138.9 901.0 1134.6C903.0 1130.2 905.0 1125.4 907.0 1120.1C909.0 1114.9 911.0 1109.1 913.0 1103.1C915.0 1097.1 917.0 1090.6 919.0 1084.1C921.0 1077.6 923.0 1070.9 925.0 1064.1C927.0 1057.3 929.0 1050.3 931.0 1043.2C933.0 1036.2 935.0 1029.0 937.0 1021.7C939.0 1014.4 941.0 1007.1 943.0 999.5C945.0 992.0 947.0 984.1 949.0 976.4C951.0 968.6 953.0 960.5 955.0 952.9C957.0 945.3 959.0 937.6 961.0 930.8C963.0 924.0 965.0 917.6 967.0 912.0C969.0 906.5 971.0 901.6 973.0 897.5C975.0 893.5 977.0 890.3 979.0 887.7C981.0 885.2 983.0 883.5 985.0 882.1C987.0 880.8 989.0 880.1 991.0 879.7C993.0 879.2 995.0 879.2 997.0 879.4C999.0 879.7 1001.0 880.2 1003.0 881.0C1005.0 881.8 1007.0 882.9 1009.0 884.2C1011.0 885.5 1013.0 887.1 1015.0 888.7C1017.0 890.3 1019.0 892.2 1021.0 894.0C1023.0 895.7 1025.0 897.6 1027.0 899.3C1029.0 901.0 1031.0 902.7 1033.0 904.1C1035.0 905.6 1037.0 906.9 1039.0 908.0C1041.0 909.1 1043.0 910.1 1045.0 910.9C1047.0 911.7 1049.0 912.4 1051.0 912.8C1053.0 913.3 1055.0 913.6 1057.0 913.8C1059.0 913.9 1061.0 913.9 1063.0 913.7C1065.0 913.5 1067.0 913.1 1069.0 912.7C1071.0 912.3 1073.0 911.7 1075.0 911.2C1077.0 910.6 1079.0 910.0 1081.0 909.5C1083.0 909.0 1085.0 908.5 1087.0 908.2C1089.0 907.8 1091.0 907.6 1093.0 907.5C1095.0 907.5 1097.0 907.6 1099.0 908.1C1101.0 908.6 1103.0 909.3 1105.0 910.4C1107.0 911.5 1109.0 912.9 1111.0 914.8C1113.0 916.6 1115.0 918.8 1117.0 921.3C1119.0 923.8 1121.0 926.6 1123.0 929.8C1125.0 932.9 1127.0 936.3 1129.0 939.9C1131.0 943.5 1133.0 947.2 1135.0 951.2C1137.0 955.3 1139.0 959.5 1141.0 964.0C1143.0 968.6 1145.0 973.4 1147.0 978.6C1149.0 983.7 1151.0 989.2 1153.0 994.7C1155.0 1000.2 1157.0 1005.8 1159.0 1011.5C1161.0 1017.1 1163.0 1022.8 1165.0 1028.5C1167.0 1034.3 1169.0 1040.1 1171.0 1046.2C1173.0 1052.4 1175.0 1058.7 1177.0 1065.2C1179.0 1071.7 1181.0 1078.6 1183.0 1085.3C1185.0 1092.0 1187.0 1099.0 1189.0 1105.4C1191.0 1111.8 1193.0 1118.3 1195.0 1123.8C1197.0 1129.3 1199.0 1134.3 1201.0 1138.5C1203.0 1142.7 1205.0 1146.1 1207.0 1149.0C1209.0 1151.9 1211.0 1154.1 1213.0 1155.9C1215.0 1157.8 1217.0 1159.1 1219.0 1160.0C1221.0 1161.0 1223.0 1161.5 1225.0 1161.4C1227.0 1161.4 1229.0 1160.9 1231.0 1159.9C1233.0 1158.9 1235.0 1157.4 1237.0 1155.3C1239.0 1153.3 1241.0 1150.6 1243.0 1147.5C1245.0 1144.5 1247.0 1140.8 1249.0 1136.9C1251.0 1133.1 1253.0 1128.7 1255.0 1124.4C1257.0 1120.0 1259.0 1115.4 1261.0 1110.8C1263.0 1106.2 1265.0 1101.5 1267.0 1096.9C1269.0 1092.3 1271.0 1087.7 1273.0 1083.3C1275.0 1078.8 1277.0 1074.4 1279.0 1070.3C1281.0 1066.1 1283.0 1062.0 1285.0 1058.3C1287.0 1054.5 1289.0 1051.0 1291.0 1047.7C1293.0 1044.3 1295.0 1041.3 1297.0 1038.4C1299.0 1035.5 1301.0 1032.9 1303.0 1030.5C1305.0 1028.1 1307.0 1025.9 1309.0 1024.0C1311.0 1022.1 1313.0 1020.5 1315.0 1019.1C1317.0 1017.8 1319.0 1016.8 1321.0 1016.0C1323.0 1015.3 1325.0 1014.8 1327.0 1014.8C1329.0 1014.7 1331.0 1014.9 1333.0 1015.5C1335.0 1016.1 1337.0 1017.0 1339.0 1018.3C1341.0 1019.7 1343.0 1021.3 1345.0 1023.7C1347.0 1026.0 1349.0 1029.0 1351.0 1032.4C1353.0 1035.8 1355.0 1040.1 1357.0 1044.1C1359.0 1048.1 1361.0 1052.5 1363.0 1056.4C1365.0 1060.3 1367.0 1063.7 1369.0 1067.3C1371.0 1070.9 1373.0 1074.2 1375.0 1078.0C1377.0 1081.8 1379.0 1085.7 1381.0 1090.1C1383.0 1094.6 1385.0 1099.2 1387.0 1104.6C1389.0 1110.0 1391.0 1116.3 1393.0 1122.6C1395.0 1128.9 1397.0 1136.1 1399.0 1142.7C1401.0 1149.3 1403.0 1156.1 1405.0 1162.4C1407.0 1168.8 1409.0 1174.8 1411.0 1181.0C1413.0 1187.2 1415.0 1193.2 1417.0 1199.5C1419.0 1205.7 1421.5 1213.6 1423.0 1218.3C1424.5 1223.1 1425.5 1226.4 1426.0 1228.0" stroke="#92c5de"/>
<path d="M277.0 1163.5C278.0 1163.6 281.0 1163.9 283.0 1164.0C285.0 1164.2 287.0 1164.4 289.0 1164.6C291.0 1164.8 293.0 1165.1 295.0 1165.3C297.0 1165.6 299.0 1165.9 301.0 1166.2C303.0 1166.6 305.0 1167.0 307.0 1167.4C309.0 1167.9 311.0 1168.4 313.0 1169.0C315.0 1169.7 317.0 1170.3 319.0 1171.2C321.0 1172.0 323.0 1173.0 325.0 1174.0C327.0 1175.1 329.0 1176.3 331.0 1177.7C333.0 1179.0 335.0 1180.5 337.0 1182.0C339.0 1183.6 341.0 1185.3 343.0 1187.1C345.0 1188.9 347.0 1190.8 349.0 1192.9C351.0 1194.9 353.0 1197.1 355.0 1199.5C357.0 1201.8 359.0 1204.3 361.0 1207.0C363.0 1209.7 365.0 1212.6 367.0 1215.5C369.0 1218.4 371.0 1221.3 373.0 1224.5C375.0 1227.6 377.0 1230.7 379.0 1234.2C381.0 1237.7 383.0 1241.4 385.0 1245.3C387.0 1249.3 389.0 1253.7 391.0 1258.0C393.0 1262.3 395.0 1266.8 397.0 1271.0C399.0 1275.1 401.0 1279.3 403.0 1282.9C405.0 1286.5 407.0 1289.8 409.0 1292.4C411.0 1295.1 413.0 1297.1 415.0 1298.7C417.0 1300.3 419.0 1301.3 421.0 1302.2C423.0 1303.0 425.0 1303.5 427.0 1303.7C429.0 1303.9 431.0 1303.9 433.0 1303.6C435.0 1303.2 437.0 1302.6 439.0 1301.6C441.0 1300.7 443.0 1299.4 445.0 1297.8C447.0 1296.2 449.0 1294.3 451.0 1292.2C453.0 1290.0 455.0 1287.6 457.0 1284.8C459.0 1282.1 461.0 1279.1 463.0 1275.9C465.0 1272.7 467.0 1269.2 469.0 1265.5C471.0 1261.8 473.0 1257.8 475.0 1253.7C477.0 1249.6 479.0 1245.4 481.0 1241.1C483.0 1236.9 485.0 1232.5 487.0 1228.2C489.0 1223.9 491.0 1219.5 493.0 1215.3C495.0 1211.0 497.0 1206.8 499.0 1202.6C501.0 1198.4 503.0 1194.2 505.0 1190.1C507.0 1186.0 509.0 1181.9 511.0 1178.0C513.0 1174.1 515.0 1170.3 517.0 1166.8C519.0 1163.3 521.0 1160.0 523.0 1157.1C525.0 1154.2 527.0 1151.5 529.0 1149.3C531.0 1147.1 533.0 1145.3 535.0 1143.8C537.0 1142.3 539.0 1141.2 541.0 1140.3C543.0 1139.4 545.0 1138.9 547.0 1138.6C549.0 1138.3 551.0 1138.3 553.0 1138.5C555.0 1138.7 557.0 1139.2 559.0 1139.8C561.0 1140.5 563.0 1141.4 565.0 1142.5C567.0 1143.5 569.0 1144.8 571.0 1146.3C573.0 1147.8 575.0 1149.4 577.0 1151.2C579.0 1153.0 581.0 1154.9 583.0 1156.9C585.0 1158.9 587.0 1161.0 589.0 1163.0C591.0 1165.1 593.0 1167.2 595.0 1169.2C597.0 1171.2 599.0 1173.2 601.0 1175.2C603.0 1177.1 605.0 1179.0 607.0 1180.8C609.0 1182.6 611.0 1184.3 613.0 1185.8C615.0 1187.3 617.0 1188.8 619.0 1190.0C621.0 1191.2 623.0 1192.3 625.0 1193.3C627.0 1194.2 629.0 1194.9 631.0 1195.5C633.0 1196.0 635.0 1196.4 637.0 1196.6C639.0 1196.7 641.0 1196.7 643.0 1196.4C645.0 1196.1 647.0 1195.6 649.0 1194.8C651.0 1194.0 653.0 1193.0 655.0 1191.8C657.0 1190.6 659.0 1189.2 661.0 1187.7C663.0 1186.1 665.0 1184.5 667.0 1182.7C669.0 1181.0 671.0 1179.2 673.0 1177.3C675.0 1175.4 677.0 1173.5 679.0 1171.4C681.0 1169.2 683.0 1167.1 685.0 1164.6C687.0 1162.1 689.0 1159.5 691.0 1156.5C693.0 1153.6 695.0 1150.3 697.0 1146.8C699.0 1143.3 701.0 1139.4 703.0 1135.4C705.0 1131.4 707.0 1127.0 709.0 1122.7C711.0 1118.3 713.0 1113.8 715.0 1109.4C717.0 1105.1 719.0 1100.7 721.0 1096.6C723.0 1092.5 725.0 1088.5 727.0 1085.0C729.0 1081.4 731.0 1078.1 733.0 1075.1C735.0 1072.2 737.0 1069.6 739.0 1067.4C741.0 1065.1 743.0 1063.2 745.0 1061.6C747.0 1060.1 749.0 1058.8 751.0 1057.9C753.0 1056.9 755.0 1056.2 757.0 1055.9C759.0 1055.5 761.0 1055.5 763.0 1055.7C765.0 1055.9 767.0 1056.5 769.0 1057.3C771.0 1058.1 773.0 1059.2 775.0 1060.5C777.0 1061.8 779.0 1063.3 781.0 1065.0C783.0 1066.7 785.0 1068.7 787.0 1070.7C789.0 1072.7 791.0 1074.9 793.0 1077.1C795.0 1079.3 797.0 1081.6 799.0 1083.9C801.0 1086.3 803.0 1088.6 805.0 1091.0C807.0 1093.3 809.0 1095.7 811.0 1098.1C813.0 1100.5 815.0 1102.8 817.0 1105.2C819.0 1107.6 821.0 1110.0 823.0 1112.3C825.0 1114.7 827.0 1117.1 829.0 1119.4C831.0 1121.6 833.0 1123.9 835.0 1126.0C837.0 1128.0 839.0 1130.0 841.0 1131.6C843.0 1133.2 845.0 1134.6 847.0 1135.7C849.0 1136.7 851.0 1137.5 853.0 1137.8C855.0 1138.1 857.0 1138.1 859.0 1137.6C861.0 1137.2 863.0 1136.4 865.0 1135.4C867.0 1134.3 869.0 1132.9 871.0 1131.3C873.0 1129.6 875.0 1127.7 877.0 1125.5C879.0 1123.3 881.0 1120.8 883.0 1118.1C885.0 1115.4 887.0 1112.4 889.0 1109.2C891.0 1106.0 893.0 1102.4 895.0 1098.8C897.0 1095.2 899.0 1091.4 901.0 1087.7C903.0 1084.1 905.0 1080.6 907.0 1077.1C909.0 1073.7 911.0 1070.4 913.0 1066.8C915.0 1063.3 917.0 1059.7 919.0 1055.9C921.0 1052.1 923.0 1048.1 925.0 1043.9C927.0 1039.7 929.0 1035.3 931.0 1030.8C933.0 1026.4 935.0 1021.6 937.0 1017.2C939.0 1012.8 941.0 1008.4 943.0 1004.3C945.0 1000.2 947.0 996.4 949.0 992.7C951.0 989.1 953.0 985.6 955.0 982.3C957.0 978.9 959.0 975.7 961.0 972.7C963.0 969.7 965.0 966.8 967.0 964.3C969.0 961.7 971.0 959.5 973.0 957.4C975.0 955.3 977.0 953.5 979.0 951.6C981.0 949.7 983.0 947.9 985.0 946.0C987.0 944.2 989.0 942.3 991.0 940.5C993.0 938.7 995.0 936.9 997.0 935.3C999.0 933.7 1001.0 932.1 1003.0 930.9C1005.0 929.6 1007.0 928.5 1009.0 927.6C1011.0 926.8 1013.0 926.2 1015.0 925.7C1017.0 925.1 1019.0 924.7 1021.0 924.3C1023.0 923.9 1025.0 923.4 1027.0 923.1C1029.0 922.7 1031.0 922.3 1033.0 922.1C1035.0 921.8 1037.0 921.5 1039.0 921.3C1041.0 921.1 1043.0 921.0 1045.0 920.9C1047.0 920.7 1049.0 920.7 1051.0 920.6C1053.0 920.6 1055.0 920.5 1057.0 920.6C1059.0 920.6 1061.0 920.7 1063.0 920.8C1065.0 920.9 1067.0 921.0 1069.0 921.2C1071.0 921.4 1073.0 921.6 1075.0 922.0C1077.0 922.3 1079.0 922.7 1081.0 923.2C1083.0 923.7 1085.0 924.3 1087.0 925.0C1089.0 925.7 1091.0 926.5 1093.0 927.5C1095.0 928.4 1097.0 929.5 1099.0 930.7C1101.0 931.9 1103.0 933.3 1105.0 934.9C1107.0 936.4 1109.0 938.2 1111.0 940.2C1113.0 942.2 1115.0 944.4 1117.0 946.8C1119.0 949.3 1121.0 951.9 1123.0 954.6C1125.0 957.4 1127.0 960.2 1129.0 963.2C1131.0 966.2 1133.0 969.2 1135.0 972.5C1137.0 975.9 1139.0 979.4 1141.0 983.3C1143.0 987.3 1145.0 991.6 1147.0 996.3C1149.0 1000.9 1151.0 1006.0 1153.0 1011.2C1155.0 1016.5 1157.0 1022.1 1159.0 1027.6C1161.0 1033.1 1163.0 1038.9 1165.0 1044.4C1167.0 1050.0 1169.0 1055.4 1171.0 1060.8C1173.0 1066.1 1175.0 1071.2 1177.0 1076.4C1179.0 1081.5 1181.0 1086.5 1183.0 1091.4C1185.0 1096.4 1187.0 1101.3 1189.0 1106.0C1191.0 1110.7 1193.0 1115.3 1195.0 1119.5C1197.0 1123.8 1199.0 1127.9 1201.0 1131.5C1203.0 1135.0 1205.0 1138.3 1207.0 1141.0C1209.0 1143.6 1211.0 1145.9 1213.0 1147.5C1215.0 1149.2 1217.0 1150.4 1219.0 1151.0C1221.0 1151.6 1223.0 1151.7 1225.0 1151.3C1227.0 1150.9 1229.0 1149.9 1231.0 1148.5C1233.0 1147.0 1235.0 1145.1 1237.0 1142.6C1239.0 1140.1 1241.0 1137.0 1243.0 1133.6C1245.0 1130.1 1247.0 1126.1 1249.0 1122.0C1251.0 1117.9 1253.0 1113.4 1255.0 1108.9C1257.0 1104.5 1259.0 1099.8 1261.0 1095.2C1263.0 1090.5 1265.0 1085.9 1267.0 1081.3C1269.0 1076.7 1271.0 1072.2 1273.0 1067.8C1275.0 1063.5 1277.0 1059.2 1279.0 1055.2C1281.0 1051.2 1283.0 1047.4 1285.0 1043.9C1287.0 1040.3 1289.0 1037.0 1291.0 1034.0C1293.0 1031.1 1295.0 1028.3 1297.0 1025.9C1299.0 1023.5 1301.0 1021.4 1303.0 1019.6C1305.0 1017.8 1307.0 1016.3 1309.0 1015.2C1311.0 1014.0 1313.0 1013.2 1315.0 1012.7C1317.0 1012.2 1319.0 1012.0 1321.0 1012.3C1323.0 1012.6 1325.0 1013.2 1327.0 1014.3C1329.0 1015.4 1331.0 1016.9 1333.0 1018.8C1335.0 1020.8 1337.0 1023.3 1339.0 1026.1C1341.0 1029.0 1343.0 1032.4 1345.0 1035.9C1347.0 1039.5 1349.0 1043.6 1351.0 1047.6C1353.0 1051.7 1355.0 1056.0 1357.0 1060.3C1359.0 1064.7 1361.0 1069.1 1363.0 1073.6C1365.0 1078.2 1367.0 1082.8 1369.0 1087.4C1371.0 1092.1 1373.0 1096.8 1375.0 1101.6C1377.0 1106.3 1379.0 1111.2 1381.0 1115.9C1383.0 1120.6 1385.0 1125.4 1387.0 1130.0C1389.0 1134.5 1391.0 1139.0 1393.0 1143.3C1395.0 1147.7 1397.0 1151.9 1399.0 1156.0C1401.0 1160.1 1403.0 1164.2 1405.0 1168.2C1407.0 1172.2 1409.0 1176.1 1411.0 1180.1C1413.0 1184.0 1415.0 1188.0 1417.0 1191.9C1419.0 1195.9 1421.5 1201.0 1423.0 1204.0C1424.5 1207.0 1425.5 1209.1 1426.0 1210.2" stroke="#d2e5f0"/>
<path d="M721.8 547.9H930.6" stroke="#1763ab" stroke-width="6.8"/>
<path d="M721.8 619.6H930.6" stroke="#3f8fc4" stroke-width="6.8"/>
<path d="M721.8 691.7H930.6" stroke="#92c5de" stroke-width="6.8"/>
<path d="M721.8 763.4H930.6" stroke="#d2e5f0" stroke-width="6.8"/>
</g>
<rect x="277.0" y="1.8" width="1149.0" height="1438.9" fill="none" stroke="#000" stroke-width="4.3"/>
<g font-family="'Liberation Serif', serif" font-size="85.5" fill="#000">
<text x="232.5" y="213.2" text-anchor="end">5</text>
<text transform="translate(168.4 213.2) scale(0.78 1)" x="-22.6" y="0">1</text>
<text x="233.5" y="513.0" text-anchor="end">0</text>
<text transform="translate(168.4 513.0) scale(0.78 1)" x="-22.6" y="0">1</text>
<text x="232.5" y="814.2" text-anchor="end">5</text>
<text x="233.5" y="1114.0" text-anchor="end">0</text>
<text x="232.5" y="1413.8" text-anchor="end">5</text>
<text x="189.8" y="1413.8" text-anchor="end">-</text>
<text transform="translate(287.8 1565.0) scale(0.78 1)" x="-22.6" y="0">1</text>
<text x="574.0" y="1565" text-anchor="middle">2</text>
<text x="861.0" y="1565" text-anchor="middle">3</text>
<text x="1148.0" y="1565" text-anchor="middle">4</text>
<text x="1438.0" y="1565" text-anchor="middle">5</text>
<text x="391" y="178">3C (×0.0</text>
<text transform="translate(718.3 178.0) scale(0.78 1)" x="-22.6" y="0">1</text>
<text x="738.5" y="178">)</text>
<text x="680" y="580" text-anchor="end">Before run</text>
<text x="616" y="651.5" text-anchor="end">Interval</text>
<text transform="translate(658.3 651.5) scale(0.78 1)" x="-22.6" y="0">1</text>
<text x="679" y="723.5" text-anchor="end">2</text>
<text x="679" y="795.5" text-anchor="end">3</text>
</g>
<g font-family="'Liberation Serif', serif" font-size="86.0">
<text transform="translate(597.0 362.0) rotate(-90) scale(1 1.03)" fill="#9400d3">Ir-O</text>
<text transform="translate(759.0 362.2) rotate(-90) scale(1 1.03)" fill="#009e73">Sr-O</text>
<text transform="translate(838.0 360.0) rotate(-90) scale(1 1.03)" fill="#e69f00">O-O</text>
<text transform="translate(1011.0 362.2) rotate(-90) scale(1 1.03)" fill="#c8320a">Sr-Ir</text>
<text transform="translate(1114.5 362.7) rotate(-90) scale(1 1.03)" fill="#00dcdc">Sr-Sr</text>
<text transform="translate(1195.5 218.0) rotate(-90) scale(1 1.03)" fill="#0000ff">Ir-Ir</text>
</g>
<g font-family="'Liberation Serif', serif" font-size="85.5" fill="#000">
<text transform="translate(60.5 795.7) rotate(-90)" font-style="italic">G</text>
<text transform="translate(60.5 735.5) rotate(-90)">(</text>
<text transform="translate(60.5 709.5) rotate(-90)" font-style="italic">r</text>
<text transform="translate(60.5 674.4) rotate(-90)">)</text>
<text x="763.7" y="1706.7" font-style="italic">r</text>
<text x="818.3" y="1711.9" font-size="90">[</text>
<text x="848.2" y="1706.7">Å</text>
<text x="909" y="1711.9" font-size="90">]</text>
</g>
</svg>
</body></html>
